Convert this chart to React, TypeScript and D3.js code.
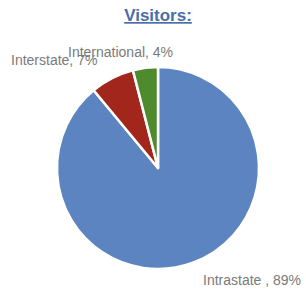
import { pie, arc } from "d3";

const categories = ["Intrastate", "Interstate", "International"];
const shares = [89, 7, 4];
const sliceLabels = ["Intrastate , 89%", "Interstate, 7%", "International, 4%"];
const colors = ["#5b84c0", "#a3261c", "#4f8a2c"];

const width = 306;
const height = 289;
const cx = 158;
const cy = 168;
const radius = 101;

// label anchors (start x, baseline y) next to each slice
const labelPos = [
  { x: 203, y: 285 },
  { x: 11, y: 65 },
  { x: 68, y: 57 },
];

export default function App() {
  const slices = pie<number>().sort(null)(shares);
  const arcGen = arc<any>().innerRadius(0).outerRadius(radius);

  return (
    <svg
      width={width}
      height={height}
      style={{ position: "absolute", left: 0, top: 0, background: "#fff" }}
      fontFamily="Liberation Sans, Arial, sans-serif"
    >
      <text
        x={158}
        y={21}
        textAnchor="middle"
        fontSize={17}
        fontWeight="bold"
        fill="#4a6ea8"
        textDecoration="underline"
      >
        Visitors:
      </text>
      <g transform={`translate(${cx}, ${cy})`}>
        {slices.map((s, i) => (
          <path
            key={categories[i]}
            d={arcGen(s) ?? ""}
            fill={colors[i]}
            stroke="#fff"
            strokeWidth={2.5}
            strokeLinejoin="round"
          />
        ))}
      </g>
      {sliceLabels.map((t, i) => (
        <text
          key={t}
          x={labelPos[i].x}
          y={labelPos[i].y}
          fontSize={14}
          fill="#7a7a7a"
        >
          {t}
        </text>
      ))}
    </svg>
  );
}
